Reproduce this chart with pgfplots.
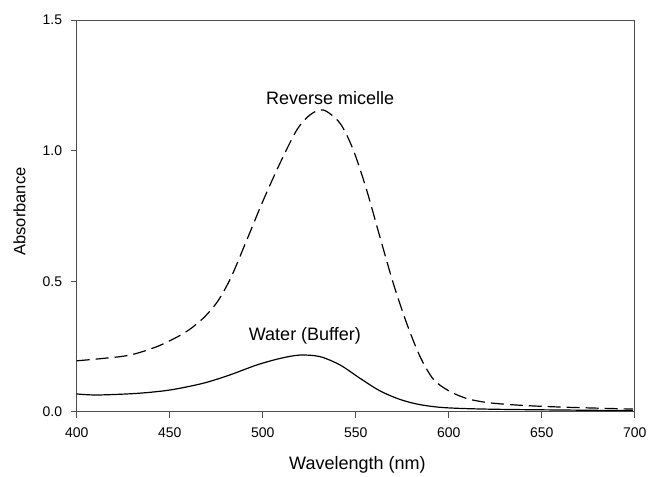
\documentclass[border=0pt]{standalone}
\usepackage{pgfplots}
\pgfplotsset{compat=1.18}
\usepackage{fontspec}
\setmainfont{Liberation Sans}
\begin{document}
\fontsize{14}{16}\selectfont
\begin{tikzpicture}
\path[use as bounding box] (0pt,0pt) rectangle (649pt,477pt);
\begin{axis}[
  at={(76.7pt,65.3pt)}, anchor=origin,
  scale only axis, width=558pt, height=391.5pt,
  xmin=400, xmax=700, ymin=0, ymax=1.5,
  xtick={400,450,...,700}, ytick={0,0.5,1.0,1.5},
  tick align=outside, xtick pos=left, ytick pos=left,
  major tick length=6pt,
  axis line style={black!70, line width=1.2pt},
  every tick/.style={black!70, line width=1.1pt},
  /pgf/number format/assume math mode=true,
  yticklabel style={/pgf/number format/.cd, fixed, fixed zerofill, precision=1, /tikz/.cd, xshift=-3.7pt},
  xticklabel style={/pgf/number format/.cd, fixed, precision=0, 1000 sep={}, /tikz/.cd, yshift=-5.5pt},
  ticklabel style={font=\fontsize{14}{16}\selectfont},
  xlabel={Wavelength (nm)}, ylabel={Absorbance},
  every axis x label/.style={at={(axis description cs:0.503,-0.1367)}, anchor=center, font=\fontsize{18}{20}\selectfont},
  every axis y label/.style={at={(axis description cs:-0.1025,0.5114)}, anchor=center, rotate=90, font=\fontsize{16.5}{18}\selectfont},
  clip=false,
]
\addplot[black, line width=1.2pt, dash pattern=on 13pt off 6pt, smooth] coordinates {
(400,0.195) (414,0.204) (428.7,0.217) (443,0.249) (455,0.290) (462,0.322)
(469,0.365) (476,0.425) (483,0.515) (491,0.650) (500,0.805) (509.3,0.952)
(518.3,1.079) (525.4,1.137) (532.6,1.156) (541.6,1.105) (548.7,1.003)
(555.9,0.849) (563,0.670) (570.2,0.492) (577.4,0.339) (584.6,0.211)
(591.7,0.125) (600,0.080) (610,0.050) (622,0.034) (640,0.024) (663.4,0.017) (699,0.010)
};
\addplot[black, line width=1.2pt, smooth] coordinates {
(400,0.068) (410.8,0.064) (432,0.070) (450,0.083) (468,0.109) (482.4,0.141)
(496.8,0.179) (509.3,0.204) (520,0.217) (530.8,0.211) (541.6,0.179)
(552.3,0.128) (563,0.080) (573.8,0.047) (584.6,0.027) (598.9,0.015)
(627.6,0.009) (699,0.004)
};
\node[font=\fontsize{18}{20}\selectfont] at (axis cs:536.2,1.202) {Reverse micelle};
\node[font=\fontsize{18}{20}\selectfont] at (axis cs:522.7,0.292) {Water (Buffer)};
\end{axis}
\end{tikzpicture}
\end{document}
